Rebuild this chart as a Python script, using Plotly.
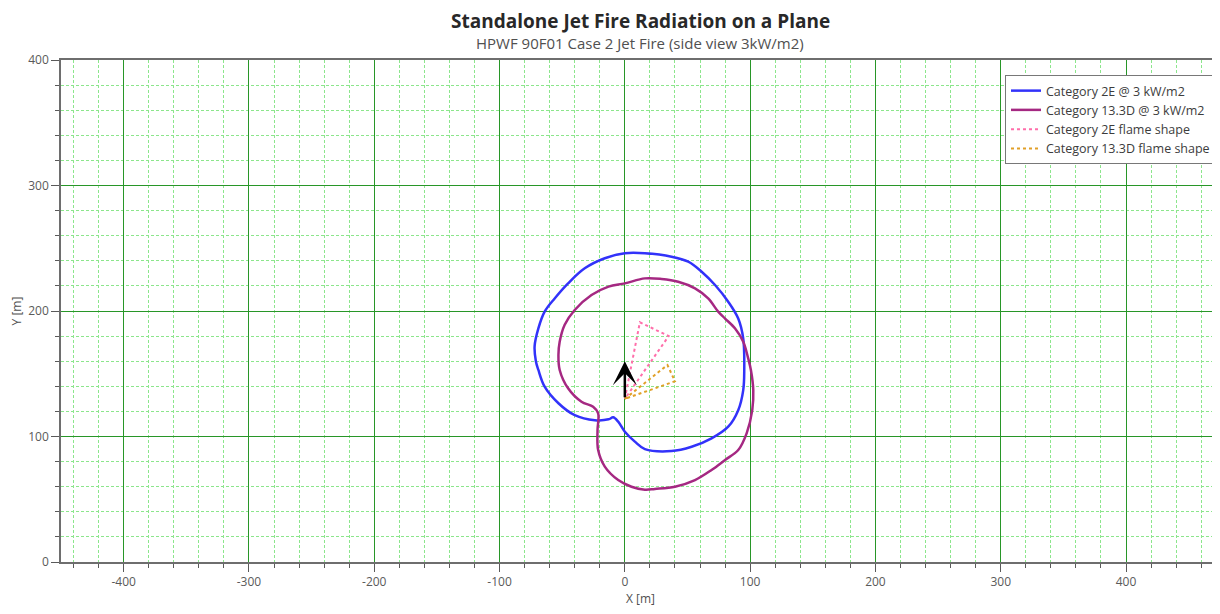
import plotly.graph_objects as go

# ---- data ----
blue_x = [0, 16, 37.3, 50.6, 61.3, 72, 82.5, 90.5, 94.5, 95.3, 94.5, 90.5, 82.5, 69.2, 53.3, 37.3,
          16, 8, 0, -5.3, -9.3, -13, -24, -40, -53, -64, -69, -71, -72, -69, -64, -56, -45.3, -32, -16, 0]
blue_y = [246, 246, 243.3, 239.3, 231.3, 220.7, 207.4, 194, 178, 153, 137, 121, 107.8, 98.5, 91.8, 88.4,
          90, 95.9, 103.8, 111.8, 115.3, 113.7, 113, 117, 126.5, 139.7, 153, 160, 172, 186.2, 199.5, 210, 222, 234, 242, 246]

purple_x = [0, 16, 29.3, 42.6, 56, 66.5, 74.5, 80, 88, 94.5, 98.5, 100.6, 102.5, 101.7, 97.2, 90.5, 80,
            69.2, 56, 40, 24, 16, 5.3, -5.3, -16, -21.3, -21.8, -21.3, -25.3, -34.6, -45.3, -52, -53, -52,
            -48, -40, -26.6, -13, 0]
purple_y = [222, 226, 225.5, 223.3, 218, 210, 199.5, 194, 186, 175.5, 162, 153, 137, 121, 102.5, 89.2, 81.3,
            73.3, 65.3, 60, 58.2, 57.6, 60, 65.3, 76, 89.2, 105, 118.5, 123.7, 127.7, 138.4, 153, 165, 175.5,
            189, 200.8, 212.7, 219.4, 222]

flame2e_x = [0, 12, 35, 0]
flame2e_y = [130, 191, 180, 130]

flame133d_x = [0, 34, 40, 0]
flame133d_y = [130, 157, 144, 130]

arrow_x = [0, 0]     # tail, tip
arrow_y = [130, 160]

x_ticks = [-400, -300, -200, -100, 0, 100, 200, 300, 400]
x_ticklabels = ["-400", "-300", "-200", "-100", "0", "100", "200", "300", "400"]
y_ticks = [0, 100, 200, 300, 400]
y_ticklabels = ["0", "100", "200", "300", "400"]

names = ["Category 2E @ 3 kW/m2", "Category 13.3D @ 3 kW/m2",
         "Category 2E flame shape", "Category 13.3D flame shape"]

FONT = "Open Sans"

fig = go.Figure()
fig.add_trace(go.Scatter(x=blue_x, y=blue_y, mode="lines", name=names[0],
                         line=dict(color="rgb(50,50,250)", width=2.5, shape="spline", smoothing=1.0)))
fig.add_trace(go.Scatter(x=purple_x, y=purple_y, mode="lines", name=names[1],
                         line=dict(color="rgb(165,40,130)", width=2.5, shape="spline", smoothing=1.0)))
fig.add_trace(go.Scatter(x=flame2e_x, y=flame2e_y, mode="lines", name=names[2],
                         line=dict(color="rgb(255,110,170)", width=2, dash="dot")))
fig.add_trace(go.Scatter(x=flame133d_x, y=flame133d_y, mode="lines", name=names[3],
                         line=dict(color="rgb(225,160,40)", width=2, dash="dot")))

fig.add_annotation(x=arrow_x[1], y=arrow_y[1], ax=arrow_x[0], ay=arrow_y[0],
                   xref="x", yref="y", axref="x", ayref="y", text="",
                   showarrow=True, arrowhead=3, arrowsize=1.6, arrowwidth=2.5,
                   arrowcolor="black")

# page has an 8px body margin; plot area target in page px: left 61, top 60, right 1220, bottom 562
PLOT_TOP, PLOT_BOTTOM, PLOT_LEFT, PLOT_RIGHT = 60, 562, 61, 1220
PH = PLOT_BOTTOM - PLOT_TOP
PW = PLOT_RIGHT - PLOT_LEFT

fig.add_annotation(text="<b>Standalone Jet Fire Radiation on a Plane</b>",
                   xref="paper", yref="paper", x=(640 - PLOT_LEFT) / PW, y=(PLOT_BOTTOM - 21) / PH,
                   xanchor="center", yanchor="middle", showarrow=False,
                   font=dict(family=FONT, size=19, color="rgb(40,40,40)"))
fig.add_annotation(text="HPWF 90F01 Case 2 Jet Fire (side view 3kW/m2)",
                   xref="paper", yref="paper", x=(640 - PLOT_LEFT) / PW, y=(PLOT_BOTTOM - 43) / PH,
                   xanchor="center", yanchor="middle", showarrow=False,
                   font=dict(family=FONT, size=15, color="rgb(80,80,80)"))

axis_common = dict(
    showline=True, linecolor="rgb(110,110,110)", linewidth=1.5,
    ticks="outside", ticklen=8, tickcolor="rgb(90,90,90)", tickwidth=1,
    showgrid=True, gridcolor="rgb(40,150,40)", gridwidth=1.3,
    zeroline=False, automargin=False,
    tickfont=dict(family=FONT, size=12, color="rgb(90,90,90)"),
    minor=dict(dtick=20, showgrid=True, gridcolor="rgb(140,230,140)", griddash="3px,2px",
               gridwidth=1, ticks="outside", ticklen=4, tickcolor="rgb(90,90,90)"),
)

fig.update_xaxes(range=[-450, 475], tickvals=x_ticks, ticktext=x_ticklabels, mirror=True,
                 title=dict(text="X [m]", standoff=4, font=dict(family=FONT, size=12, color="rgb(80,80,80)")),
                 **axis_common)
fig.update_yaxes(range=[0, 400], tickvals=y_ticks, ticktext=y_ticklabels,
                 title=dict(text="Y [m]", standoff=4, font=dict(family=FONT, size=12, color="rgb(80,80,80)")),
                 **axis_common)

fig.update_layout(
    width=1220, height=614, autosize=False,
    margin=dict(l=PLOT_LEFT - 8, r=8, t=PLOT_TOP - 8, b=614 - (PLOT_BOTTOM - 8)),
    paper_bgcolor="white", plot_bgcolor="white",
    showlegend=True,
    legend=dict(x=(1005 - PLOT_LEFT) / PW, y=(PLOT_BOTTOM - 75) / PH, xanchor="left", yanchor="top",
                bgcolor="white", bordercolor="rgb(120,120,120)", borderwidth=1,
                font=dict(family=FONT, size=12.5, color="rgb(60,60,60)"),
                itemwidth=30, tracegroupgap=0),
)

fig.write_html("out.html")
